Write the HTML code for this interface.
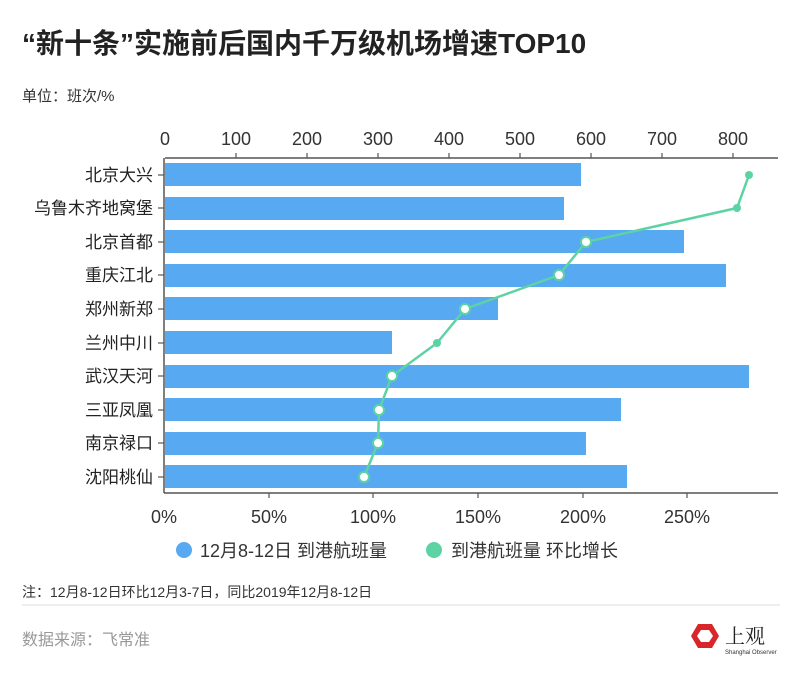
<!DOCTYPE html>
<html><head><meta charset="utf-8"><style>
body{margin:0;background:#fff;width:800px;height:680px;overflow:hidden;font-family:"Liberation Sans","Noto Sans CJK SC",sans-serif;}
</style></head><body>
<svg width="800" height="680" xmlns="http://www.w3.org/2000/svg" font-family="Liberation Sans, Noto Sans CJK SC, sans-serif">
<text x="22" y="53" font-size="28" font-weight="bold" fill="#222">“新十条”实施前后国内千万级机场增速TOP10</text>
<text x="22" y="101" font-size="15" fill="#333">单位：班次/%</text>
<line x1="165" y1="158" x2="778" y2="158" stroke="#555" stroke-width="1.5"/>
<line x1="164" y1="158" x2="164" y2="493" stroke="#555" stroke-width="1.5"/>
<line x1="164" y1="493" x2="778" y2="493" stroke="#555" stroke-width="1.5"/>
<g font-size="18" fill="#333" text-anchor="middle">
<text x="165" y="145">0</text><text x="236" y="145">100</text><text x="307" y="145">200</text><text x="378" y="145">300</text><text x="449" y="145">400</text><text x="520" y="145">500</text><text x="591" y="145">600</text><text x="662" y="145">700</text><text x="733" y="145">800</text>
<text x="164" y="523">0%</text><text x="269" y="523">50%</text><text x="373" y="523">100%</text><text x="478" y="523">150%</text><text x="583" y="523">200%</text><text x="687" y="523">250%</text>
</g>
<g stroke="#555" stroke-width="1.2">
<line x1="236" y1="153" x2="236" y2="158"/><line x1="307" y1="153" x2="307" y2="158"/><line x1="378" y1="153" x2="378" y2="158"/><line x1="449" y1="153" x2="449" y2="158"/><line x1="520" y1="153" x2="520" y2="158"/><line x1="591" y1="153" x2="591" y2="158"/><line x1="662" y1="153" x2="662" y2="158"/><line x1="733" y1="153" x2="733" y2="158"/>
<line x1="269" y1="493" x2="269" y2="498"/><line x1="373" y1="493" x2="373" y2="498"/><line x1="478" y1="493" x2="478" y2="498"/><line x1="583" y1="493" x2="583" y2="498"/><line x1="687" y1="493" x2="687" y2="498"/>
</g>
<g fill="#57a9f2">
<rect x="165" y="163" width="416" height="23"/>
<rect x="165" y="197" width="399" height="23"/>
<rect x="165" y="230" width="519" height="23"/>
<rect x="165" y="264" width="561" height="23"/>
<rect x="165" y="297" width="333" height="23"/>
<rect x="165" y="331" width="227" height="23"/>
<rect x="165" y="365" width="584" height="23"/>
<rect x="165" y="398" width="456" height="23"/>
<rect x="165" y="432" width="421" height="23"/>
<rect x="165" y="465" width="462" height="23"/>
</g>
<g stroke="#555" stroke-width="1.2">
<line x1="158" y1="175" x2="164" y2="175"/><line x1="158" y1="208" x2="164" y2="208"/><line x1="158" y1="242" x2="164" y2="242"/><line x1="158" y1="275" x2="164" y2="275"/><line x1="158" y1="309" x2="164" y2="309"/><line x1="158" y1="343" x2="164" y2="343"/><line x1="158" y1="376" x2="164" y2="376"/><line x1="158" y1="410" x2="164" y2="410"/><line x1="158" y1="443" x2="164" y2="443"/><line x1="158" y1="477" x2="164" y2="477"/>
</g>
<g font-size="17" fill="#222" text-anchor="end">
<text x="153" y="181">北京大兴</text><text x="153" y="214">乌鲁木齐地窝堡</text><text x="153" y="248">北京首都</text><text x="153" y="281">重庆江北</text><text x="153" y="315">郑州新郑</text><text x="153" y="349">兰州中川</text><text x="153" y="382">武汉天河</text><text x="153" y="416">三亚凤凰</text><text x="153" y="449">南京禄口</text><text x="153" y="483">沈阳桃仙</text>
</g>
<polyline fill="none" stroke="#5dd3a4" stroke-width="2.5" points="749,175 737,208 586,242 559,275 465,309 437,343 392,376 379,410 378,443 364,477"/>
<g fill="#5dd3a4"><circle cx="749" cy="175" r="4"/><circle cx="737" cy="208" r="4"/><circle cx="437" cy="343" r="4"/></g>
<g fill="#fff" stroke="#5dd3a4" stroke-width="2">
<circle cx="586" cy="242" r="5"/><circle cx="559" cy="275" r="5"/><circle cx="465" cy="309" r="5"/><circle cx="392" cy="376" r="5"/><circle cx="379" cy="410" r="5"/><circle cx="378" cy="443" r="5"/><circle cx="364" cy="477" r="5"/>
</g>
<circle cx="184" cy="550" r="8" fill="#57a9f2"/>
<text x="200" y="557" font-size="18" fill="#333">12月8-12日 到港航班量</text>
<circle cx="434" cy="550" r="8" fill="#5dd3a4"/>
<text x="451" y="557" font-size="18" fill="#333">到港航班量 环比增长</text>
<text x="22" y="597" font-size="14" fill="#333">注：12月8-12日环比12月3-7日，同比2019年12月8-12日</text>
<line x1="22" y1="605" x2="780" y2="605" stroke="#ddd" stroke-width="1"/>
<text x="22" y="645" font-size="16" fill="#999">数据来源：飞常准</text>
<polygon points="698,624 712,624 719,636 712,648 698,648 691,636" fill="#d9262b"/>
<polygon points="701,630 709,630 713,636 709,642 701,642 697,636" fill="#fff"/>
<text x="725" y="643" font-size="20" fill="#222" font-family="Noto Serif CJK SC, serif">上观</text>
<text x="725" y="654" font-size="6" fill="#333">Shanghai Observer</text>
</svg>
</body></html>
